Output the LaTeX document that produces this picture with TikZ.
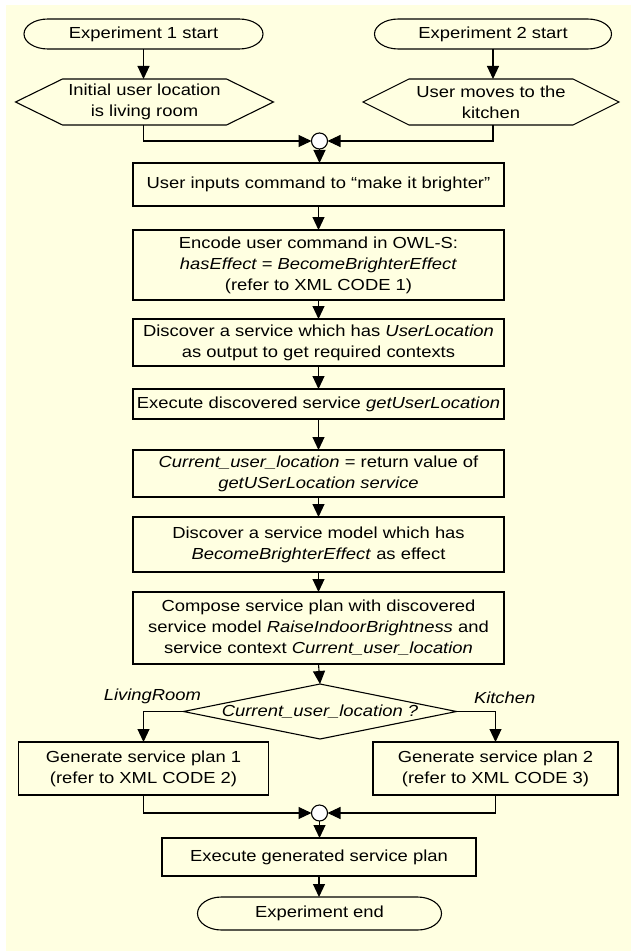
\documentclass[tikz,border=0pt]{standalone}
\usepackage{fontspec}
\setmainfont{Liberation Sans}[FakeStretch=1.15]
\usetikzlibrary{arrows.meta,shapes.geometric}
\definecolor{paper}{RGB}{255,255,225}

% outline of a start/end terminal: straight top and bottom, elliptical ends
\newcommand\termshape[2]{%
  \draw[outline] ([xshift=24pt]#1.north west) -- ([xshift=-24pt]#1.north east)
    arc[start angle=90, end angle=-90, x radius=24pt, y radius=#2]
    -- ([xshift=24pt]#1.south west)
    arc[start angle=270, end angle=90, x radius=24pt, y radius=#2] -- cycle;}
% outline of an input hexagon with pointed left and right ends
\newcommand\hexshape[2]{%
  \draw[outline] (#1.west) -- ([xshift=#2]#1.north west) -- ([xshift=-#2]#1.north east)
    -- (#1.east) -- ([xshift=-#2]#1.south east) -- ([xshift=#2]#1.south west) -- cycle;}

\begin{document}
\begin{tikzpicture}[x=1pt, y=-1pt,
  every node/.style={font=\fontsize{16}{21}\selectfont, align=center, inner sep=0pt, outer sep=0pt},
  outline/.style={draw=black, line width=1.1pt},
  proc/.style={draw=black, line width=1.1pt, minimum width=371pt},
  term/.style={minimum width=#1},
  hexin/.style={minimum width=#1, minimum height=46pt},
  junction/.style={circle, draw=black, fill=white, line width=1.1pt, minimum size=16pt},
  decide/.style={diamond, draw=black, line width=1.1pt, minimum width=273pt, minimum height=55pt},
  branch/.style={font=\fontsize{16}{21}\selectfont\itshape},
  arr/.style={line width=1.1pt, -{Triangle[length=13pt, width=12pt]}},
  conn/.style={line width=1.1pt}]

% page and background
\useasboundingbox (0,0) rectangle (631,952);
\fill[paper] (5.5,5) rectangle (631,950.5);

% start terminals
\node[term=239pt, minimum height=30pt] (s1) at (143.5,34) {Experiment 1 start};
\node[term=237pt, minimum height=30pt] (s2) at (493,34) {Experiment 2 start};
\termshape{s1}{15pt}
\termshape{s2}{15pt}

% initial situations
\node[hexin=258pt] (h1) at (144.5,102) {Initial user location\\is living room};
\node[hexin=256pt] (h2) at (491,102) {User moves to the\\kitchen};
\hexshape{h1}{47pt}
\hexshape{h2}{46pt}

% merge of the two experiments
\node[junction] (j1) at (319.5,141) {};

% main processing chain
\node[proc, minimum height=43pt] (b1) at (318.5,184.5) {User inputs command to “make it brighter”};
\node[proc, minimum height=70pt] (b2) at (318.5,265) {Encode user command in OWL-S:\\\textit{hasEffect = BecomeBrighterEffect}\\(refer to XML CODE 1)};
\node[proc, minimum height=47pt] (b3) at (318.5,342.5) {Discover a service which has \textit{UserLocation}\\as output to get required contexts};
\node[proc, minimum height=30pt] (b4) at (318.5,404) {Execute discovered service \textit{getUserLocation}};
\node[proc, minimum height=47pt] (b5) at (318.5,473.5) {\textit{Current\_user\_location} = return value of\\\textit{getUSerLocation service}};
\node[proc, minimum height=55pt] (b6) at (318.5,544.5) {Discover a service model which has\\\textit{BecomeBrighterEffect} as effect};
\node[proc, minimum height=72pt] (b7) at (318.5,628) {Compose service plan with discovered\\service model \textit{RaiseIndoorBrightness} and\\service context \textit{Current\_user\_location}};

% decision on the user location
\node[decide] (dec) at (320,711.5) {};
\node[branch] (decq) at (dec.center) {Current\_user\_location ?};
\node[branch, anchor=south east] (lv) at (201,704) {LivingRoom};
\node[branch, anchor=south west] (kt) at (474,704) {Kitchen};

% generated plans
\node[draw=black, line width=1.1pt, minimum width=250pt, minimum height=53pt] (g1) at (143.5,768.5) {Generate service plan 1\\(refer to XML CODE 2)};
\node[draw=black, line width=1.1pt, minimum width=245pt, minimum height=53pt] (g2) at (495.5,768.5) {Generate service plan 2\\(refer to XML CODE 3)};

\node[junction] (j2) at (319.5,813) {};
\node[draw=black, line width=1.1pt, minimum width=314pt, minimum height=38pt] (b8) at (319,857) {Execute generated service plan};

% end terminal
\node[term=244pt, minimum height=33pt] (e) at (319.5,913.5) {Experiment end};
\termshape{e}{16.5pt}

% connectors
\draw[arr] (s1.south) -- (h1.north -| s1.south);
\draw[arr] (s2.south) -- (h2.north -| s2.south);
\draw[arr] (h1.south -| s1.south) |- (j1.west);
\draw[arr] (h2.south -| s2.south) |- (j1.east);
\draw[arr] (j1.south) -- (b1.north -| j1.south);
\draw[arr] (b1) -- (b2);
\draw[arr] (b2) -- (b3);
\draw[arr] (b3) -- (b4);
\draw[arr] (b4) -- (b5);
\draw[arr] (b5) -- (b6);
\draw[arr] (b6) -- (b7);
\draw[arr] (b7.south) -- (dec.north);
\draw[arr] (dec.west) -| (g1.north);
\draw[arr] (dec.east) -| (g2.north);
\draw[arr] (g1.south) |- (j2.west);
\draw[arr] (g2.south) |- (j2.east);
\draw[arr] (j2.south) -- (b8.north -| j2.south);
\draw[arr] (b8.south) -- (e.north -| b8.south);
\end{tikzpicture}
\end{document}
